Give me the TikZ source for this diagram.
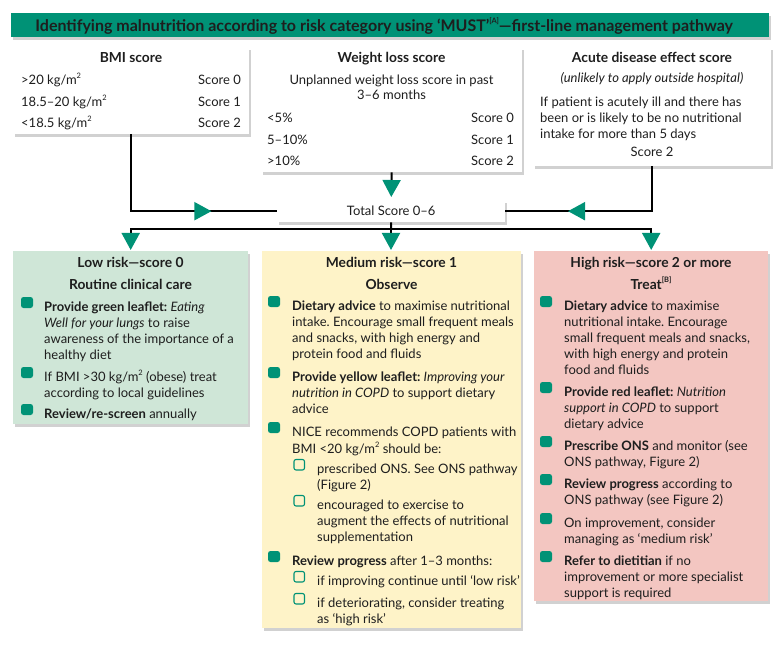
\documentclass[tikz,border=0pt]{standalone}
\usepackage{fontspec}
\setmainfont{Lato}
\usetikzlibrary{arrows.meta,shadows,decorations.markings,calc}
\frenchspacing
\definecolor{mustgreen}{RGB}{0,146,118}
\definecolor{lowfill}{RGB}{207,230,215}
\definecolor{medfill}{RGB}{254,243,200}
\definecolor{highfill}{RGB}{243,198,193}
\definecolor{ink}{RGB}{30,30,30}
\newcommand\bsq[2]{\fill[mustgreen, rounded corners=2.5pt] (#1,{#2-14}) rectangle ++(12,11);}
\newcommand\csq[2]{\draw[mustgreen, line width=1.1pt, rounded corners=2pt] (#1,{#2-13.5}) rectangle ++(10.5,10.5);}
\newcommand\mysup[1]{\raisebox{0.5em}{\fontsize{7.5}{8}\selectfont #1}}
\begin{document}
\frenchspacing
\begin{tikzpicture}[x=1pt,y=-1pt,
  box/.style={draw=none, fill=white, inner sep=0, anchor=north west,
    drop shadow={shadow xshift=1.5pt, shadow yshift=-2.5pt, opacity=0.3, fill=black!60}},
  head/.style={font=\bfseries\fontsize{13.8}{16}\selectfont, anchor=base, inner sep=0, text=ink},
  txt/.style={font=\fontsize{13}{16}\selectfont, anchor=base west, inner sep=0, text=ink},
  txtr/.style={font=\fontsize{13}{16}\selectfont, anchor=base east, inner sep=0, text=ink},
  txtc/.style={font=\fontsize{13}{16}\selectfont, anchor=base, inner sep=0, text=ink},
  para/.style={font=\fontsize{13}{16}\selectfont\frenchspacing, anchor=north west, inner sep=0, align=left, text=ink},
  conn/.style={line width=2pt, black},
  gtip/.tip={Triangle[width=18pt,length=17pt,color=mustgreen]}
]
\useasboundingbox (0,0) rectangle (780,650);

% title bar
\node[box, fill=mustgreen, minimum width=758pt, minimum height=24pt] (title) at (11,13) {};
\node[font=\bfseries\fontsize{16}{18}\selectfont, text=ink, inner sep=0] (titletext) at ($(title.center)+(-6,0.5)$)
  {Identifying malnutrition according to risk category using ‘MUST’\mysup{[A]}—first-line management pathway};

% top boxes
\node[box, minimum width=236pt, minimum height=87pt] (bmi) at (13,47) {};
\node[box, minimum width=261pt, minimum height=125pt] (wl) at (261,47) {};
\node[box, minimum width=238pt, minimum height=119pt] (acute) at (533,47) {};
\node[box, minimum width=228pt, minimum height=22pt] (total) at (277,200) {};
\node[txtc] (totaltext) at ($(total.center)+(0,4.6)$) {Total Score 0–6};

% BMI
\node[head] (bmih) at (131,63) {BMI score};
\node[txt] (bmi1) at (21,85) {>20 kg/m\mysup{2}};
\node[txt] (bmi2) at (21,107) {18.5–20 kg/m\mysup{2}};
\node[txt] (bmi3) at (21,128) {<18.5 kg/m\mysup{2}};
\node[txtr] (bmis1) at (241,85) {Score 0};
\node[txtr] (bmis2) at (241,107) {Score 1};
\node[txtr] (bmis3) at (241,128) {Score 2};

% Weight loss
\node[head] (wlh) at (391.5,63) {Weight loss score};
\node[txtc] (wla) at (391.5,85) {Unplanned weight loss score in past};
\node[txtc] (wlb) at (391.5,100) {3–6 months};
\node[txt] (wl1) at (267,123) {<5\%};
\node[txt] (wl2) at (267,145) {5–10\%};
\node[txt] (wl3) at (267,166) {>10\%};
\node[txtr] (wls1) at (514,123) {Score 0};
\node[txtr] (wls2) at (514,145) {Score 1};
\node[txtr] (wls3) at (514,166) {Score 2};

% Acute
\node[head] (ach) at (652,63) {Acute disease effect score};
\node[txtc] (aci) at (652,83) {\itshape (unlikely to apply outside hospital)};
\node[para] (act) at (540,{106-11.2}) {\strut If patient is acutely ill and there has\\been or is likely to be no nutritional\\intake for more than 5 days};
\node[txtc] (acs) at (652,157) {Score 2};

% connectors to total
\draw[conn, postaction={decorate}, decoration={markings, mark=at position 157pt with {\arrow{gtip}}}]
  (bmi.south) |- (total.west);
\draw[conn, postaction={decorate}, decoration={markings, mark=at position 129pt with {\arrow{gtip}}}]
  (acute.south) |- (total.east);
\draw[conn, -{gtip}, shorten >=3pt] (wl.south) -- (total.north);

% risk boxes
\node[box, fill=lowfill, minimum width=235pt, minimum height=173pt] (low) at (13,251) {};
\node[box, fill=medfill, minimum width=259pt, minimum height=377pt] (med) at (262,251) {};
\node[box, fill=highfill, minimum width=234pt, minimum height=350pt] (high) at (534,251) {};

\coordinate (split) at (391,229);
\draw[conn] (total.south) -- (split);
\draw[conn, -{gtip}, shorten >=1pt] (split) -| (low.north);
\draw[conn, -{gtip}, shorten >=1pt] (split) -- (split |- med.north);
\draw[conn, -{gtip}, shorten >=1pt] (split) -| (high.north);

% Low risk
\node[head] (lowt) at (130.5,268) {Low risk—score 0};
\node[head] (lows) at (130.5,289) {Routine clinical care};
\bsq{21}{311}\bsq{21}{381}\bsq{21}{418}
\node[para] (low1) at (44,{311-11.2}) {\strut\textbf{Provide green leaflet:} \textit{Eating}\\\textit{Well for your lungs} to raise\\awareness of the importance of a\\healthy diet};
\node[para] (low2) at (44,{381-11.2}) {\strut If BMI >30 kg/m\mysup{2} (obese) treat\\according to local guidelines};
\node[para] (low3) at (44,{418-11.2}) {\strut\textbf{Review/re-screen} annually};

% Medium risk
\node[head] (medt) at (391.5,268) {Medium risk—score 1};
\node[head] (meds) at (391.5,289) {Observe};
\bsq{268}{310}\bsq{268}{381}\bsq{268}{436}\bsq{268}{565}
\csq{294}{473}\csq{294}{509}\csq{294}{585}\csq{294}{607}
\node[para] (med1) at (292,{310-11.2}) {\strut\textbf{Dietary advice} to maximise nutritional\\intake. Encourage small frequent meals\\and snacks, with high energy and\\protein food and fluids};
\node[para] (med2) at (292,{381-11.2}) {\strut\textbf{Provide yellow leaflet:} \textit{Improving your}\\\textit{nutrition in COPD} to support dietary\\advice};
\node[para] (med3) at (292,{436-11.2}) {\strut NICE recommends COPD patients with\\BMI <20 kg/m\mysup{2} should be:};
\node[para] (medc1) at (317,{473-11.2}) {\strut prescribed ONS. See ONS pathway\\(Figure 2)};
\node[para] (medc2) at (317,{509-11.2}) {\strut encouraged to exercise to\\augment the effects of nutritional\\supplementation};
\node[para] (med4) at (292,{565-11.2}) {\strut\textbf{Review progress} after 1–3 months:};
\node[para] (medc3) at (317,{585-11.2}) {\strut if improving continue until ‘low risk’};
\node[para] (medc4) at (317,{607-11.2}) {\strut if deteriorating, consider treating\\as ‘high risk’};

% High risk
\node[head] (hight) at (651,268) {High risk—score 2 or more};
\node[head] (highs) at (651,289) {Treat\mysup{[B]}};
\bsq{540}{310}\bsq{540}{396}\bsq{540}{450}\bsq{540}{488}\bsq{540}{527}\bsq{540}{565}
\node[para] (high1) at (564,{310-11.2}) {\strut\textbf{Dietary advice} to maximise\\nutritional intake. Encourage\\small frequent meals and snacks,\\with high energy and protein\\food and fluids};
\node[para] (high2) at (564,{396-11.2}) {\strut\textbf{Provide red leaflet:} \textit{Nutrition}\\\textit{support in COPD} to support\\dietary advice};
\node[para] (high3) at (564,{450-11.2}) {\strut\textbf{Prescribe ONS} and monitor (see\\ONS pathway, Figure 2)};
\node[para] (high4) at (564,{488-11.2}) {\strut\textbf{Review progress} according to\\ONS pathway (see Figure 2)};
\node[para] (high5) at (564,{527-11.2}) {\strut On improvement, consider\\managing as ‘medium risk’};
\node[para] (high6) at (564,{565-11.2}) {\strut\textbf{Refer to dietitian} if no\\improvement or more specialist\\support is required};
\end{tikzpicture}
\end{document}
